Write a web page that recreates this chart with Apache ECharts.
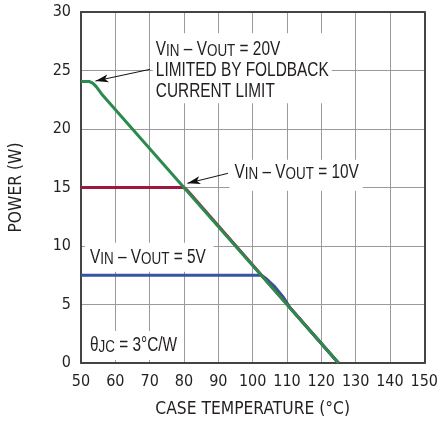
<!DOCTYPE html>
<html><head><meta charset="utf-8">
<script src="https://cdn.jsdelivr.net/npm/echarts@6/dist/echarts.min.js"></script>
<style>html,body{margin:0;padding:0;background:#fff}#c{width:441px;height:425px}</style>
</head><body><div id="c"></div>
<script>
// ---- data ----
const xName = 'CASE TEMPERATURE (°C)';
const yName = 'POWER (W)';
const xRange = [50, 150];
const yRange = [0, 30];
const xStep = 10;
const yStep = 5;
const green20V = [[50,24.05],[52.5,24.05],[53.5,23.9],[54.5,23.6],[56,23.0],[125,0]];
const red10V = [[50,15],[80,15],[81,14.75],[125,0]];
const blue5V = [[50,7.5],[102.5,7.5],[104,7.2],[106.5,6.5],[109,5.6],[111,4.67],[125,0]];
const noteTexts = [
  'V{s|IN} – V{s|OUT} = 20V\nLIMITED BY FOLDBACK\nCURRENT LIMIT',
  'V{s|IN} – V{s|OUT} = 10V',
  'V{s|IN} – V{s|OUT} = 5V',
  'θ{s|JC} = 3°C/W'
];
// anchor = [left x, centre of first line y] in data units
const noteAnchors = [[71.8, 26.78],[94.7, 16.31],[52.6, 9.04],[52.6, 1.50]];
const arrows = [[[70.1, 25.1],[54.2, 24.1]], [[92.8, 16.21],[81.0, 15.36]]];

// ---- styles ----
const AXFONT = "'DejaVu Sans Condensed','Liberation Sans',sans-serif";
const NOTEFONT = "'Liberation Sans',Arial,sans-serif";
const NOTE_SX = 0.79;
const TXT = '#231f20';
const notePads = [[6,3,1,3],[2,4,8,5],[4,8,4,5],[4,6,4,5]];
const LH = 21;

const chart = echarts.init(document.getElementById('c'), null, {renderer:'canvas'});
const baseAxisX = {type:'value', min:xRange[0], max:xRange[1], interval:xStep};
const baseAxisY = {type:'value', min:yRange[0], max:yRange[1], interval:yStep};
const option = {
  animation:false,
  backgroundColor:'#fff',
  grid:{left:76, right:13, top:12, bottom:62, containLabel:false},
  xAxis:[
    Object.assign({}, baseAxisX, {
      position:'bottom',
      name:xName, nameLocation:'middle', nameGap:38,
      nameTextStyle:{fontFamily:AXFONT, fontSize:17.3, color:TXT},
      axisLine:{show:true, lineStyle:{color:'#444', width:2}},
      axisTick:{show:false},
      axisLabel:{fontFamily:AXFONT, fontSize:16, color:TXT, margin:11},
      splitLine:{show:true, lineStyle:{color:'#9a9a9a', width:1}}
    }),
    Object.assign({}, baseAxisX, {
      position:'top',
      axisLine:{show:true, onZero:false, lineStyle:{color:'#444', width:2}},
      axisTick:{show:false}, axisLabel:{show:false}, splitLine:{show:false}
    })
  ],
  yAxis:[
    Object.assign({}, baseAxisY, {
      position:'left',
      name:yName, nameLocation:'middle', nameGap:56, nameRotate:90,
      nameTextStyle:{fontFamily:AXFONT, fontSize:17.3, color:TXT},
      axisLine:{show:true, lineStyle:{color:'#444', width:2}},
      axisTick:{show:false},
      axisLabel:{fontFamily:AXFONT, fontSize:16, color:TXT, margin:10},
      splitLine:{show:true, lineStyle:{color:'#9a9a9a', width:1}}
    }),
    Object.assign({}, baseAxisY, {
      position:'right',
      axisLine:{show:true, onZero:false, lineStyle:{color:'#444', width:2}},
      axisTick:{show:false}, axisLabel:{show:false}, splitLine:{show:false}
    })
  ],
  series:[
    {type:'line', name:'5V', data:blue5V, symbol:'none', lineStyle:{color:'#3852a4', width:3}, z:3},
    {type:'line', name:'10V', data:red10V, symbol:'none', lineStyle:{color:'#a0173f', width:3}, z:3},
    {type:'line', name:'20V', data:green20V, symbol:'none', lineStyle:{color:'#2b8a4e', width:3}, z:4,
      markLine:{
        silent:true, animation:false,
        lineStyle:{color:'#111', width:1, type:'solid'},
        label:{show:false},
        emphasis:{disabled:true},
        symbolSize:[6,13],
        data: arrows.map(a => [{coord:a[0], symbol:'none'}, {coord:a[1], symbol:'arrow'}])
      }
    }
  ]
};
chart.setOption(option);

const graphics = noteTexts.map((t, i) => {
  const p = chart.convertToPixel({xAxisIndex:0, yAxisIndex:0}, noteAnchors[i]);
  const pad = notePads[i];
  const padX = [pad[0], pad[1] / NOTE_SX, pad[2], pad[3] / NOTE_SX];
  return {
    type:'text', z:1,
    x: p[0] - pad[3],
    y: p[1] - pad[0] - LH/2,
    scaleX: NOTE_SX, scaleY: 1,
    style:{
      text:t,
      fontFamily:NOTEFONT, fontSize:19.5, fill:TXT,
      lineHeight:LH,
      align:'left', verticalAlign:'top',
      backgroundColor:'#fff',
      padding:padX,
      rich:{
        s:{fontFamily:NOTEFONT, fontSize:17, fill:TXT, lineHeight:12, verticalAlign:'bottom'}
      }
    }
  };
});
chart.setOption({graphic:graphics});
</script>
</body></html>
